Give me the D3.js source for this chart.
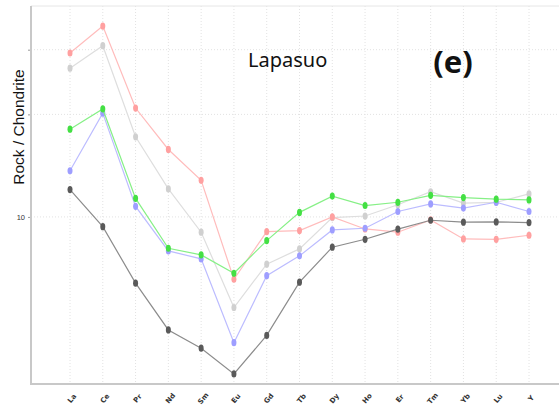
<!DOCTYPE html>
<html>
<head>
<meta charset="utf-8">
<script src="https://cdn.jsdelivr.net/npm/d3@7"></script>
<style>
  body { margin: 0; background: #fff; }
  svg { display: block; }
</style>
</head>
<body>
<svg id="chart" width="559" height="405"></svg>
<script>
// REE elements on the x axis
const elements = ["La", "Ce", "Pr", "Nd", "Sm", "Eu", "Gd", "Tb", "Dy", "Ho", "Er", "Tm", "Yb", "Lu", "Y"];

// chondrite-normalised values
const redSample   = [57.9, 77.3, 32.1, 20.6, 14.8, 5.13, 8.54, 8.64, 10.0, 8.79, 8.49, 9.68, 7.90, 7.87, 8.22];
const greySample  = [49.2, 62.6, 23.6, 13.5, 8.49, 3.79, 6.03, 7.10, 9.93, 10.1, 11.4, 13.1, 11.6, 11.7, 12.8];
const greenSample = [25.6, 31.8, 12.2, 7.15, 6.66, 5.47, 7.76, 10.5, 12.5, 11.3, 11.7, 12.6, 12.3, 12.1, 12.0];
const blueSample  = [16.4, 30.4, 11.2, 6.95, 6.38, 2.60, 5.33, 6.59, 8.70, 8.86, 10.6, 11.5, 11.0, 11.7, 10.6];
const darkSample  = [13.4, 9.01, 4.92, 2.98, 2.45, 1.86, 2.81, 4.97, 7.23, 7.87, 8.77, 9.65, 9.45, 9.48, 9.41];

const yTicks = [10, 30, 60];
const yTickLabels = ["10", "", ""];

const series = [
    { name: "grey",  values: greySample,  line: "#dedede", dot: "#d0d0d0" },
    { name: "red",   values: redSample,   line: "#ffbcbc", dot: "#ffa0a0" },
    { name: "blue",  values: blueSample,  line: "#bcbcff", dot: "#9e9eff" },
    { name: "green", values: greenSample, line: "#86f086", dot: "#44e044" },
    { name: "dark",  values: darkSample,  line: "#8c8c8c", dot: "#5a5a5a" }
];

const svg = d3.select("#chart");
const plotLeft = 31, plotRight = 559, plotTop = 6, plotBottom = 384;

const x = d3.scalePoint()
    .domain(elements)
    .range([70, 529]);

const y = d3.scaleLog()
    .domain([1.67, 95.8])
    .range([plotBottom, plotTop]);

// gridlines
const grid = svg.append("g");
grid.selectAll("line.v")
    .data(elements)
    .enter()
    .append("line")
    .attr("x1", d => x(d)).attr("x2", d => x(d))
    .attr("y1", plotTop).attr("y2", plotBottom)
    .attr("stroke", "#e2e2e2")
    .attr("stroke-dasharray", "1,2");
grid.selectAll("line.h")
    .data(yTicks)
    .enter()
    .append("line")
    .attr("x1", plotLeft).attr("x2", plotRight)
    .attr("y1", d => y(d)).attr("y2", d => y(d))
    .attr("stroke", "#e2e2e2")
    .attr("stroke-dasharray", "1,2");

// top border
svg.append("line")
    .attr("x1", plotLeft).attr("x2", plotRight)
    .attr("y1", plotTop).attr("y2", plotTop)
    .attr("stroke", "#e6e6e6");

// y axis
const yAxis = svg.append("g")
    .attr("transform", `translate(${plotLeft},0)`)
    .call(d3.axisLeft(y).tickValues(yTicks).tickSize(3).tickFormat((d, i) => yTickLabels[i]));
yAxis.select(".domain").remove();
yAxis.selectAll(".tick line").attr("stroke", "#999");
yAxis.selectAll(".tick text")
    .attr("font-family", "Liberation Sans, Arial, sans-serif")
    .attr("font-size", 7.5)
    .attr("fill", "#333");

// x axis
const xAxis = svg.append("g")
    .attr("transform", `translate(0,${plotBottom})`)
    .call(d3.axisBottom(x).tickSize(0));
xAxis.select(".domain").remove();
xAxis.selectAll(".tick text")
    .attr("font-family", "DejaVu Sans, sans-serif")
    .attr("font-weight", "bold")
    .attr("font-size", 7)
    .attr("fill", "#333")
    .attr("text-anchor", "middle")
    .attr("dy", 0)
    .attr("transform", "translate(1,14) rotate(-50)");

// axis lines
svg.append("line")
    .attr("x1", plotLeft).attr("x2", plotLeft)
    .attr("y1", plotTop).attr("y2", plotBottom + 1)
    .attr("stroke", "#c8c8c8").attr("stroke-width", 2);
svg.append("line")
    .attr("x1", plotLeft).attr("x2", plotRight)
    .attr("y1", plotBottom).attr("y2", plotBottom)
    .attr("stroke", "#c8c8c8").attr("stroke-width", 2);

// series lines
const line = d3.line()
    .x((d, i) => x(elements[i]))
    .y(d => y(d));

const groups = svg.selectAll("g.series")
    .data(series)
    .enter()
    .append("g")
    .attr("class", "series");

groups.append("path")
    .attr("d", d => line(d.values))
    .attr("fill", "none")
    .attr("stroke", d => d.line)
    .attr("stroke-width", 1.2);

groups.each(function(s) {
    d3.select(this).selectAll("ellipse")
        .data(s.values)
        .enter()
        .append("ellipse")
        .attr("cx", (d, i) => x(elements[i]))
        .attr("cy", d => y(d))
        .attr("rx", 2.5)
        .attr("ry", 3.6)
        .attr("fill", s.dot);
});

// y axis title
svg.append("text")
    .attr("transform", "translate(24,127) rotate(-90)")
    .attr("text-anchor", "middle")
    .attr("font-family", "Liberation Sans, Arial, sans-serif")
    .attr("font-size", 15.5)
    .attr("fill", "#111")
    .text("Rock / Chondrite");

// labels inside the plot
svg.append("text")
    .attr("x", 248).attr("y", 67)
    .attr("font-family", "Noto Sans, sans-serif")
    .attr("font-size", 20)
    .attr("fill", "#111")
    .text("Lapasuo");

svg.append("text")
    .attr("x", 453).attr("y", 73)
    .attr("text-anchor", "middle")
    .attr("font-family", "Noto Sans, sans-serif")
    .attr("font-weight", "bold")
    .attr("font-size", 31)
    .attr("fill", "#111")
    .text("(e)");
</script>
</body>
</html>
